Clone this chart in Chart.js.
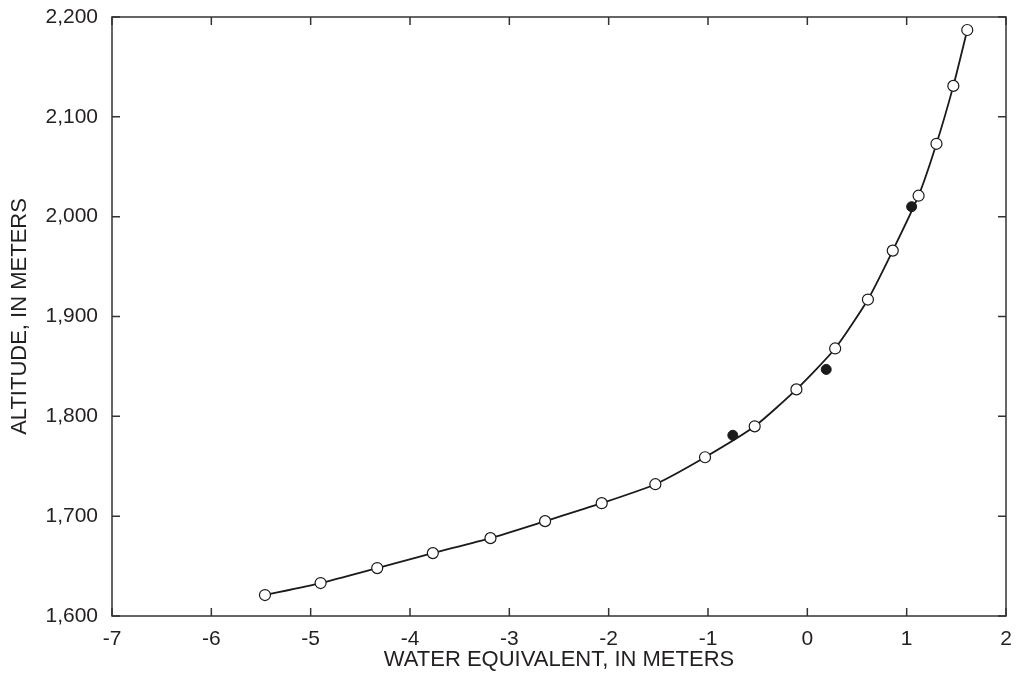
<!DOCTYPE html>
<html>
<head>
<meta charset="utf-8">
<script src="https://cdn.jsdelivr.net/npm/chart.js@4.4.0/dist/chart.umd.min.js"></script>
<style>
    html, body { margin: 0; padding: 0; background: #fff; }
    #wrap { width: 1017px; height: 681px; }
</style>
</head>
<body>
<div id="wrap"><canvas id="grafico"></canvas></div>
<script>
// valores
var abiertosX = [-5.46, -4.90, -4.33, -3.77, -3.19, -2.64, -2.07, -1.53, -1.03, -0.53, -0.11, 0.28, 0.61, 0.86, 1.12, 1.30, 1.47, 1.61];
var abiertosY = [1621, 1633, 1648, 1663, 1678, 1695, 1713, 1732, 1759, 1790, 1827, 1868, 1917, 1966, 2021, 2073, 2131, 2187];
var rellenosX = [-0.75, 0.19, 1.05];
var rellenosY = [1781, 1847, 2010];
var ticksX = [-7, -6, -5, -4, -3, -2, -1, 0, 1, 2];
var ticksY = [1600, 1700, 1800, 1900, 2000, 2100, 2200];

var fuente = "'Liberation Sans', Arial, Helvetica, sans-serif";
var colorTexto = '#231f20';

var puntosAbiertos = abiertosX.map(function (x, i) { return {x: x, y: abiertosY[i]}; });
var puntosRellenos = rellenosX.map(function (x, i) { return {x: x, y: rellenosY[i]}; });

// caja y marcas hacia adentro
var marcoPlugin = {
    id: 'marco',
    afterDraw: function (chart) {
        var ctx = chart.ctx;
        var a = chart.chartArea;
        var sx = chart.scales.x;
        var sy = chart.scales.y;
        var largo = 8;
        ctx.save();
        ctx.strokeStyle = '#333';
        ctx.lineWidth = 1.5;
        ctx.strokeRect(a.left, a.top, a.right - a.left, a.bottom - a.top);
        ctx.beginPath();
        ticksX.forEach(function (v) {
            var px = sx.getPixelForValue(v);
            ctx.moveTo(px, a.bottom);
            ctx.lineTo(px, a.bottom - largo);
            ctx.moveTo(px, a.top);
            ctx.lineTo(px, a.top + largo);
        });
        ticksY.forEach(function (v) {
            var py = sy.getPixelForValue(v);
            ctx.moveTo(a.left, py);
            ctx.lineTo(a.left + largo, py);
            ctx.moveTo(a.right, py);
            ctx.lineTo(a.right - largo, py);
        });
        ctx.stroke();
        ctx.restore();
    }
};

function sinRelleno(scale) {
    scale.paddingTop = 0;
    scale.paddingBottom = 0;
    scale.paddingLeft = 0;
    scale.paddingRight = 0;
}

var ctx = document.getElementById('grafico');
new Chart(ctx, {
    type: 'scatter',
    data: {
        datasets: [{
            label: 'Medidos',
            data: puntosRellenos,
            showLine: false,
            pointRadius: 5,
            pointBackgroundColor: '#1a1a1a',
            pointBorderColor: '#1a1a1a',
            pointBorderWidth: 1
        }, {
            label: 'Curva',
            data: puntosAbiertos,
            showLine: true,
            tension: 0.2,
            borderColor: '#1a1a1a',
            borderWidth: 1.8,
            pointRadius: 5.5,
            pointBackgroundColor: '#fff',
            pointBorderColor: '#1a1a1a',
            pointBorderWidth: 1.2
        }]
    },
    options: {
        responsive: true,
        maintainAspectRatio: false,
        animation: false,
        layout: {
            padding: {left: 0, top: 17, right: 11, bottom: 0}
        },
        plugins: {
            legend: {display: false},
            tooltip: {enabled: false}
        },
        scales: {
            x: {
                type: 'linear',
                min: -7,
                max: 2,
                afterBuildTicks: function (scale) {
                    scale.ticks = ticksX.map(function (v) { return {value: v}; });
                },
                afterFit: function (scale) {
                    scale.height = 65;
                    sinRelleno(scale);
                },
                grid: {display: false, drawTicks: false},
                border: {display: false},
                ticks: {
                    padding: 11,
                    maxRotation: 0,
                    autoSkip: false,
                    color: colorTexto,
                    font: {family: fuente, size: 21},
                    callback: function (v) { return String(v); }
                },
                title: {
                    display: true,
                    text: 'WATER EQUIVALENT, IN METERS',
                    color: colorTexto,
                    font: {family: fuente, size: 22},
                    padding: {top: 0, bottom: 8}
                }
            },
            y: {
                type: 'linear',
                min: 1600,
                max: 2200,
                afterBuildTicks: function (scale) {
                    scale.ticks = ticksY.map(function (v) { return {value: v}; });
                },
                afterFit: function (scale) {
                    scale.width = 112;
                    sinRelleno(scale);
                },
                grid: {display: false, drawTicks: false},
                border: {display: false},
                ticks: {
                    padding: 14,
                    autoSkip: false,
                    color: colorTexto,
                    font: {family: fuente, size: 21},
                    callback: function (v) { return v.toLocaleString('en-US'); }
                },
                title: {
                    display: true,
                    text: 'ALTITUDE, IN METERS',
                    color: colorTexto,
                    font: {family: fuente, size: 22},
                    padding: {top: 7, bottom: 0}
                }
            }
        }
    },
    plugins: [marcoPlugin]
});
</script>
</body>
</html>
